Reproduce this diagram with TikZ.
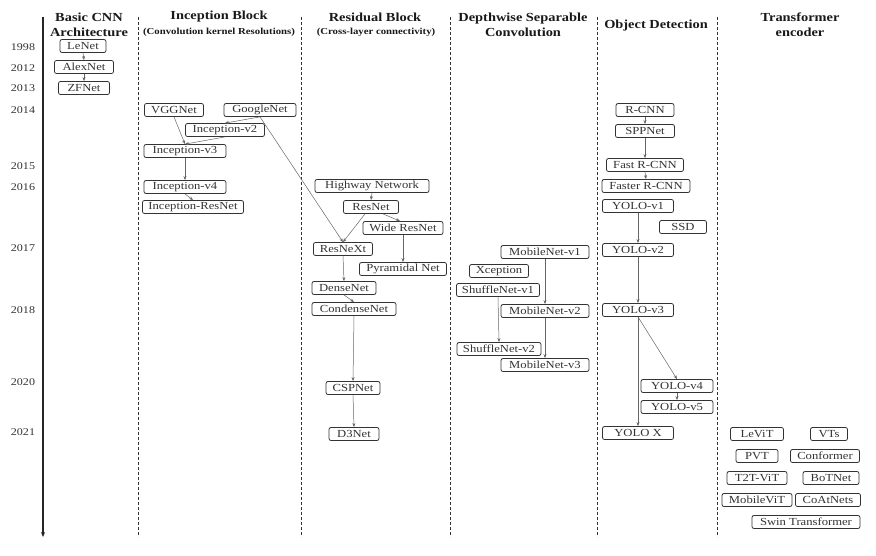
\documentclass[tikz,border=0pt]{standalone}
\usepackage{fontspec}
\setmainfont{Liberation Serif}[FakeStretch=1.17]
\usetikzlibrary{positioning,arrows.meta}

\tikzset{
    model/.style={draw=black!80, text=black!80, rounded corners=2pt, line width=0.8pt,
        inner xsep=2pt, inner ysep=0pt, minimum height=13pt, font=\fontsize{10.8}{11}\selectfont},
    link/.style={-{Stealth[length=4pt,width=3pt]}, black!60, line width=0.5pt},
    head/.style={font=\fontsize{12.3}{15}\selectfont\bfseries, align=center, text=black!90},
    subhead/.style={font=\fontsize{9.2}{10}\selectfont\bfseries, text=black!90},
    year/.style={font=\fontsize{10.3}{11}\selectfont, text=black!80},
    sep/.style={black!80, line width=0.9pt, dash pattern=on 3pt off 2pt},
}

\begin{document}
\begin{tikzpicture}[x=1pt, y=-1pt]
    \useasboundingbox (0,0) rectangle (876,555);

    % time axis
    \draw [-{Stealth[length=5pt,width=4pt]}, black!85, line width=1.3pt] (43,17) -- (43,537);
    \foreach \yr/\ypos in {1998/47, 2012/68, 2013/88, 2014/110, 2015/166, 2016/187,
        2017/248, 2018/310, 2020/382, 2021/432}{
        \node[year] (y\yr) at (23,\ypos) {\yr};
    }

    % column separators
    \foreach \sx in {138,301,450,597,717}{
        \draw [sep] (\sx,17) -- (\sx,537);
    }

    % column titles
    \node[head] (h1) at (89,24.5) {Basic CNN\\Architecture};
    \node[head] (h2) at (219,17) {Inception Block};
    \node[subhead] (s2) at (219,32) {(Convolution kernel Resolutions)};
    \node[head] (h3) at (375,17) {Residual Block};
    \node[subhead] (s3) at (376,32) {(Cross-layer connectivity)};
    \node[head] (h4) at (523,24.5) {Depthwise Separable\\Convolution};
    \node[head] (h5) at (656,26) {Object Detection};
    \node[head] (h6) at (800,25) {Transformer\\encoder};

    % Basic CNN
    \node[model, minimum width=46pt] (lenet) at (83,46) {LeNet};
    \node[model, minimum width=59pt] (alexnet) at (84,67) {AlexNet};
    \node[model, minimum width=51pt] (zfnet) at (84,88) {ZFNet};

    % Inception block
    \node[model, minimum width=59pt] (vggnet) at (174,110) {VGGNet};
    \node[model, minimum width=72pt] (googlenet) at (260,110) {GoogleNet};
    \node[model, minimum width=79pt] (incv2) at (225,130) {Inception-v2};
    \node[model, minimum width=82pt] (incv3) at (185,151) {Inception-v3};
    \node[model, minimum width=82pt] (incv4) at (185,187) {Inception-v4};
    \node[model, minimum width=101pt] (incres) at (193,207) {Inception-ResNet};

    % Residual block
    \node[model, minimum width=114pt] (highway) at (372,186) {Highway Network};
    \node[model, minimum width=55pt] (resnet) at (371,207) {ResNet};
    \node[model, minimum width=80pt] (wideres) at (403,228) {Wide ResNet};
    \node[model, minimum width=59pt] (resnext) at (343,249) {ResNeXt};
    \node[model, minimum width=87pt] (pyramid) at (403,269) {Pyramidal Net};
    \node[model, minimum width=64pt] (densenet) at (344,288) {DenseNet};
    \node[model, minimum width=84pt] (condense) at (354,309) {CondenseNet};
    \node[model, minimum width=54pt] (cspnet) at (353,388) {CSPNet};
    \node[model, minimum width=50pt] (dthree) at (354,434) {D3Net};

    % Depthwise separable convolution
    \node[model, minimum width=88pt] (mobv1) at (545,252) {MobileNet-v1};
    \node[model, minimum width=59pt] (xception) at (499,271) {Xception};
    \node[model, minimum width=83pt] (shufv1) at (498,290) {ShuffleNet-v1};
    \node[model, minimum width=88pt] (mobv2) at (545,311) {MobileNet-v2};
    \node[model, minimum width=84pt] (shufv2) at (499,349) {ShuffleNet-v2};
    \node[model, minimum width=88pt] (mobv3) at (545,365) {MobileNet-v3};

    % Object detection
    \node[model, minimum width=58pt] (rcnn) at (645,110) {R-CNN};
    \node[model, minimum width=59pt] (sppnet) at (645,131) {SPPNet};
    \node[model, minimum width=77pt] (fastrcnn) at (645,165) {Fast R-CNN};
    \node[model, minimum width=88pt] (fasterrcnn) at (646,186) {Faster R-CNN};
    \node[model, minimum width=71pt] (yolov1) at (638,206) {YOLO-v1};
    \node[model, minimum width=47pt] (ssd) at (683,227) {SSD};
    \node[model, minimum width=71pt] (yolov2) at (638,250) {YOLO-v2};
    \node[model, minimum width=71pt] (yolov3) at (638,310) {YOLO-v3};
    \node[model, minimum width=72pt] (yolov4) at (677,386) {YOLO-v4};
    \node[model, minimum width=72pt] (yolov5) at (677,407) {YOLO-v5};
    \node[model, minimum width=71pt] (yolox) at (638,433) {YOLO X};

    % Transformer encoder
    \node[model, minimum width=53pt] (levit) at (757,434) {LeViT};
    \node[model, minimum width=37pt] (vts) at (829,434) {VTs};
    \node[model, minimum width=42pt] (pvt) at (757,456) {PVT};
    \node[model, minimum width=69pt] (conformer) at (825,456) {Conformer};
    \node[model, minimum width=60pt] (ttvit) at (757,478) {T2T-ViT};
    \node[model, minimum width=56pt] (botnet) at (831,478) {BoTNet};
    \node[model, minimum width=70pt] (mobvit) at (757,500) {MobileViT};
    \node[model, minimum width=65pt] (coatnets) at (828,500) {CoAtNets};
    \node[model, minimum width=108pt] (swin) at (806,522) {Swin Transformer};

    % links
    \draw [link] (lenet.south) -- (alexnet.north);
    \draw [link] (alexnet.south) -- (zfnet.north);

    \draw [link] (googlenet.south) -- (incv2.north);
    \draw [link] (incv2.south) -- (incv3.north);
    \draw [link] (vggnet.south) -- (incv3.north);
    \draw [link] (incv3.south) -- (incv4.north);
    \draw [link] (incv4.south) -- (incres.north);
    \draw [link] (googlenet.south) -- (resnext.north);

    \draw [link] (highway.south) -- (resnet.north);
    \draw [link] ([xshift=-6pt]resnet.south) -- (resnext.north);
    \draw [link] ([xshift=12pt]resnet.south) -- ([xshift=-3pt]wideres.north);
    \draw [link] (wideres.south) -- (pyramid.north);
    \draw [link] (resnext.south) -- (densenet.north);
    \draw [link] (densenet.south) -- (condense.north);
    \draw [link] (condense.south) -- (cspnet.north);
    \draw [link] (cspnet.south) -- (dthree.north);

    \draw [link] (mobv1.south) -- (mobv2.north);
    \draw [link] (mobv2.south) -- (mobv3.north);
    \draw [link] (shufv1.south) -- (shufv2.north);

    \draw [link] (rcnn.south) -- (sppnet.north);
    \draw [link] (sppnet.south) -- (fastrcnn.north);
    \draw [link] (fastrcnn.south) -- (fasterrcnn.north);
    \draw [link] (yolov1.south) -- (yolov2.north);
    \draw [link] (yolov2.south) -- (yolov3.north);
    \draw [link] (yolov3.south) -- (yolox.north);
    \draw [link] (yolov3.south) -- (yolov4.north);
    \draw [link] (yolov4.south) -- (yolov5.north);
\end{tikzpicture}
\end{document}
